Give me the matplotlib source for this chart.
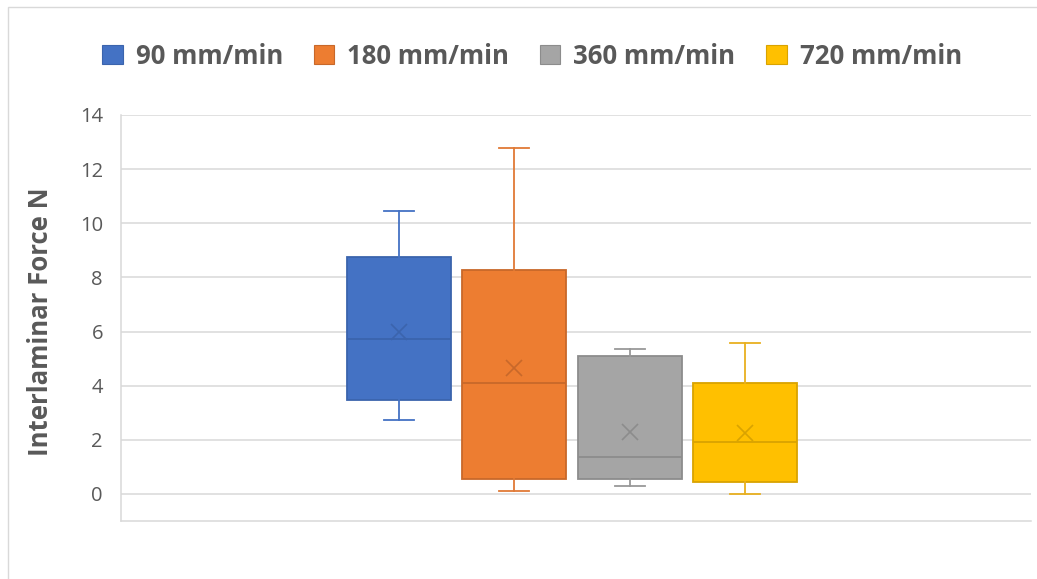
import matplotlib
matplotlib.use("Agg")
import matplotlib.pyplot as plt
from matplotlib.patches import Patch, Rectangle

# Interlaminar force by crosshead speed (box-and-whisker summary)
series = ["90 mm/min", "180 mm/min", "360 mm/min", "720 mm/min"]
whisker_low = [2.75, 0.10, 0.28, 0.00]
q1 = [3.48, 0.57, 0.55, 0.45]
median = [5.71, 4.11, 1.37, 1.93]
q3 = [8.75, 8.27, 5.10, 4.10]
whisker_high = [10.44, 12.77, 5.34, 5.57]
mean = [5.99, 4.66, 2.30, 2.24]

y_ticks = [0, 2, 4, 6, 8, 10, 12, 14]

fills = ["#4472C4", "#ED7D31", "#A5A5A5", "#FFC000"]
edges = ["#3B64AD", "#C8682A", "#8C8C8C", "#D9A300"]
whisk = ["#4472C4", "#E07A36", "#989898", "#E8B020"]
grid_c = "#D9D9D9"
text_c = "#595959"

fig = plt.figure(figsize=(10.37, 5.79), dpi=100)
W, H = 1037, 579

# chart border
fig.patches.append(Rectangle((8 / W, -0.1), 1.2, (579 - 7) / H + 0.1,
                             transform=fig.transFigure, fill=False,
                             edgecolor="#D9D9D9", linewidth=1.0))

ax = fig.add_axes([121 / W, (H - 521) / H, (1031 - 121) / W, (521 - 115) / H])

step = 115.5 / 910
center = -4 / 910
positions = [center + (i - 1.5) * step for i in range(len(series))]
box_w = 104 / 910
cap_w = 30 / 910

for i in range(len(series)):
    stats = [dict(med=median[i], q1=q1[i], q3=q3[i],
                  whislo=whisker_low[i], whishi=whisker_high[i],
                  mean=mean[i], fliers=[])]
    ax.bxp(stats, positions=[positions[i]], widths=box_w, capwidths=cap_w,
           patch_artist=True, showmeans=True, showfliers=False,
           boxprops=dict(facecolor=fills[i], edgecolor=edges[i], linewidth=1.3),
           medianprops=dict(color=edges[i], linewidth=1.3),
           whiskerprops=dict(color=whisk[i], linewidth=1.3),
           capprops=dict(color=whisk[i], linewidth=1.3),
           meanprops=dict(marker="x", markersize=11, markeredgecolor=edges[i],
                          markeredgewidth=1.2, markerfacecolor="none"),
           zorder=3)

ax.set_xlim(-0.5, 0.5)
ax.set_ylim(-1, 14)
ax.set_yticks(y_ticks)
ax.set_xticks([])
for y in y_ticks:
    ax.axhline(y, color=grid_c, linewidth=1.1, zorder=1)
for s in ["top", "right"]:
    ax.spines[s].set_visible(False)
ax.spines["left"].set_color(grid_c)
ax.spines["bottom"].set_color(grid_c)
ax.spines["left"].set_linewidth(1.1)
ax.spines["bottom"].set_linewidth(1.1)
ax.tick_params(axis="y", length=0, pad=13, labelsize=14.5, labelcolor=text_c)
for lab in ax.get_yticklabels():
    lab.set_fontfamily("Open Sans")

ax.set_ylabel("Interlaminar Force N", fontsize=18.5, fontweight="bold",
              color=text_c, family="Open Sans")
ax.yaxis.set_label_coords((54 - 121) / 910, (521 - 321.5) / 406)

handles = [Patch(facecolor=fills[i], edgecolor=edges[i], linewidth=0.8)
           for i in range(len(series))]
fig.legend(handles, series, loc="center", bbox_to_anchor=(532 / W, 1 - 56 / H),
           ncol=4, frameon=False, handlelength=0.8, handleheight=0.8,
           handletextpad=0.5, columnspacing=1.2,
           prop=dict(family="Open Sans", weight="bold", size=18.5),
           labelcolor=text_c)

fig.savefig("out.png", dpi=100, facecolor="white")
